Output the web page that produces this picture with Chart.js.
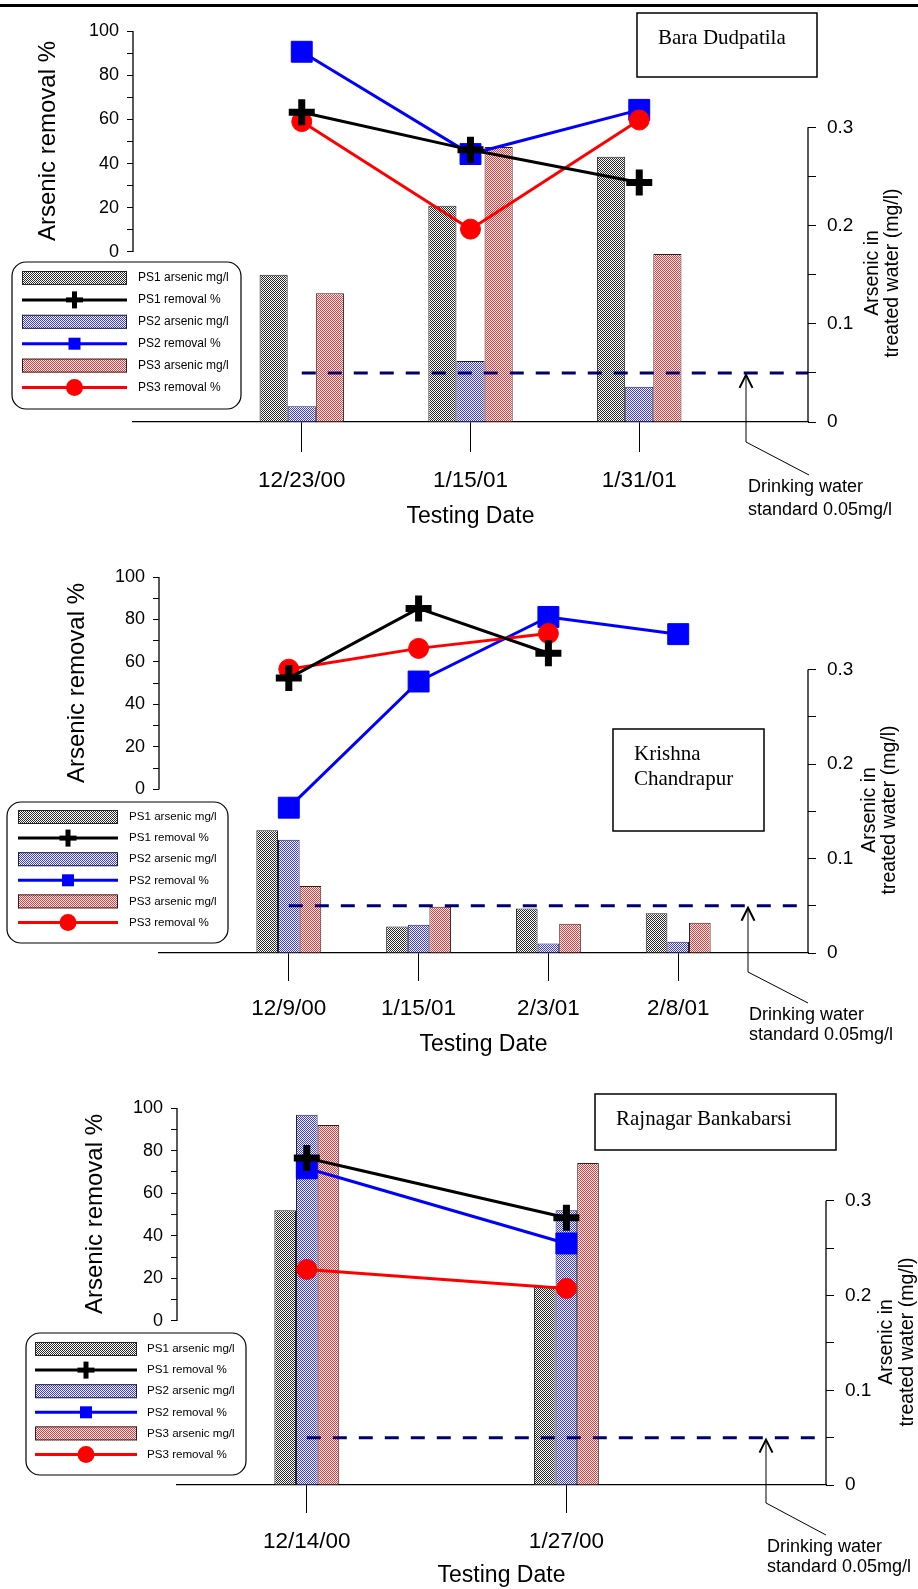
<!DOCTYPE html>
<html>
<head>
<meta charset="utf-8">
<script src="https://cdn.jsdelivr.net/npm/chart.js@4.4.0/dist/chart.umd.min.js"></script>
<style>
  html, body { margin: 0; padding: 0; background: #fff; }
  body { width: 918px; height: 1589px; position: relative; overflow: hidden; }
  canvas { position: absolute; left: 0; }
</style>
</head>
<body>
<canvas id="chartBara" width="918" height="530" style="top:0px"></canvas>
<canvas id="chartKrishna" width="918" height="530" style="top:530px"></canvas>
<canvas id="chartRajnagar" width="918" height="529" style="top:1060px"></canvas>
<script>
// Shared labels and ticks
const seriesLabels = ['PS1 arsenic mg/l', 'PS1 removal %', 'PS2 arsenic mg/l', 'PS2 removal %', 'PS3 arsenic mg/l', 'PS3 removal %'];
const removalTicks = [0, 10, 20, 30, 40, 50, 60, 70, 80, 90, 100];
const arsenicTicks = [0, 0.05, 0.1, 0.15, 0.2, 0.25, 0.3];
const drinkingStandard = 0.05;
const standardNote = ['Drinking water', 'standard 0.05mg/l'];
const leftAxisTitle = 'Arsenic removal %';
const rightAxisTitle = ['Arsenic in', 'treated water (mg/l)'];
const xAxisTitle = 'Testing Date';

// Bara Dudpatila
const baraSite = ['Bara Dudpatila'];
const baraDates = ['12/23/00', '1/15/01', '1/31/01'];
const baraSlots = [1, 2, 3];
const baraPS1Arsenic = [0.150, 0.220, 0.270];
const baraPS2Arsenic = [0.016, 0.062, 0.036];
const baraPS3Arsenic = [0.131, 0.280, 0.171];
const baraPS1Removal = [63.2, 46.2, 31.4];
const baraPS2Removal = [90.6, 44.3, 64.3];
const baraPS3Removal = [59.0, 10.3, 59.7];

// Krishna Chandrapur
const krishnaSite = ['Krishna', 'Chandrapur'];
const krishnaDates = ['12/9/00', '1/15/01', '2/3/01', '2/8/01'];
const krishnaSlots = [1, 2, 3, 4];
const krishnaPS1Arsenic = [0.130, 0.028, 0.047, 0.042];
const krishnaPS2Arsenic = [0.120, 0.030, 0.010, 0.012];
const krishnaPS3Arsenic = [0.071, 0.049, 0.031, 0.032];
const krishnaPS1Removal = [52.4, 85.2, 64.1, null];
const krishnaPS2Removal = [-8.6, 50.8, 81.2, 73.1];
const krishnaPS3Removal = [56.6, 66.4, 73.4, null];

// Rajnagar Bankabarsi
const rajSite = ['Rajnagar Bankabarsi'];
const rajDates = ['12/14/00', '1/27/00'];
const rajSlots = [1, 3];
const rajPS1Arsenic = [0.290, 0.210];
const rajPS2Arsenic = [0.391, 0.290];
const rajPS3Arsenic = [0.380, 0.340];
const rajPS1Removal = [76.5, 48.5];
const rajPS2Removal = [71.7, 36.4];
const rajPS3Removal = [24.2, 15.3];

Chart.defaults.font.family = "'Liberation Sans', Arial, Helvetica, sans-serif";
Chart.defaults.color = '#000';

const SANS = "'Liberation Sans', Arial, sans-serif";
const SERIF = "'Liberation Serif', 'Times New Roman', serif";

// fine dither fill like the original bars
function makePattern(color) {
    const c = document.createElement('canvas');
    c.width = 2;
    c.height = 2;
    const g = c.getContext('2d');
    g.fillStyle = '#fff';
    g.fillRect(0, 0, 2, 2);
    g.fillStyle = color;
    g.fillRect(0, 0, 1, 1);
    g.fillRect(1, 1, 1, 1);
    return g.createPattern(c, 'repeat');
}

const barFills = [makePattern('#2a2a2a'), makePattern('#3535ff'), makePattern('#ff3030')];
const lineColors = ['#000000', '#0000ff', '#ff0000'];

function drawMarker(ctx, kind, color, x, y) {
    ctx.fillStyle = color;
    if (kind === 0) {
        ctx.fillRect(x - 8.5, y - 2.5, 17, 5);
        ctx.fillRect(x - 2.5, y - 8.5, 5, 17);
    } else if (kind === 1) {
        ctx.fillRect(x - 6, y - 6, 12, 12);
    } else {
        ctx.beginPath();
        ctx.arc(x, y, 8.5, 0, Math.PI * 2);
        ctx.fill();
    }
}

function decorPlugin(cfg) {
    return {
        id: 'decor',
        afterDraw(chart) {
            const ctx = chart.ctx;
            const area = chart.chartArea;
            const yL = chart.scales.yL;
            const yR = chart.scales.yR;
            ctx.save();
            ctx.translate(0, -cfg.top);
            const off = cfg.top;

            if (cfg.rule) {
                ctx.fillStyle = '#000';
                ctx.fillRect(0, 4, 918, 3);
            }

            // partial axis lines
            ctx.strokeStyle = '#000';
            ctx.lineWidth = 1.3;
            ctx.beginPath();
            ctx.moveTo(area.left, yL.getPixelForValue(100) + off);
            ctx.lineTo(area.left, yL.getPixelForValue(0) + off);
            ctx.moveTo(area.right, yR.getPixelForValue(0.3) + off);
            ctx.lineTo(area.right, yR.getPixelForValue(0) + off);
            ctx.stroke();

            // axis titles
            ctx.fillStyle = '#000';
            ctx.textAlign = 'center';
            ctx.textBaseline = 'middle';
            ctx.save();
            ctx.translate(cfg.leftTitle.x, cfg.leftTitle.y);
            ctx.rotate(-Math.PI / 2);
            ctx.font = '24px ' + SANS;
            ctx.fillText(leftAxisTitle, 0, 0);
            ctx.restore();
            rightAxisTitle.forEach(function(t, i) {
                ctx.save();
                ctx.translate(cfg.rightTitle.x[i], cfg.rightTitle.y);
                ctx.rotate(-Math.PI / 2);
                ctx.font = '19.5px ' + SANS;
                ctx.fillText(t, 0, 0);
                ctx.restore();
            });

            // site name box
            const sb = cfg.siteBox;
            ctx.lineWidth = 1.5;
            ctx.strokeRect(sb.x, sb.y, sb.w, sb.h);
            ctx.font = '21px ' + SERIF;
            ctx.textAlign = 'left';
            ctx.textBaseline = 'alphabetic';
            cfg.site.forEach(function(t, i) {
                ctx.fillText(t, sb.tx, sb.ty[i]);
            });

            // drinking water standard arrow
            const ar = cfg.arrow;
            const tipY = yR.getPixelForValue(drinkingStandard) + off + 1;
            ctx.lineWidth = 1;
            ctx.beginPath();
            ctx.moveTo(ar.x, tipY + 2);
            ctx.lineTo(ar.x, ar.down);
            ctx.lineTo(ar.ex, ar.ey);
            ctx.stroke();
            ctx.lineWidth = 2;
            ctx.beginPath();
            ctx.moveTo(ar.x - 6.5, tipY + 14);
            ctx.lineTo(ar.x, tipY + 1);
            ctx.lineTo(ar.x + 6.5, tipY + 14);
            ctx.stroke();
            ctx.font = '18px ' + SANS;
            standardNote.forEach(function(t, i) {
                ctx.fillText(t, ar.tx, ar.ty[i]);
            });

            // legend
            const L = cfg.legend;
            ctx.fillStyle = '#fff';
            ctx.strokeStyle = '#000';
            ctx.lineWidth = 1.2;
            ctx.beginPath();
            ctx.roundRect(L.x, L.y, L.w, L.h, 14);
            ctx.fill();
            ctx.stroke();
            for (let i = 0; i < seriesLabels.length; i++) {
                const y = L.ry + i * L.step;
                const s = Math.floor(i / 2);
                if (i % 2 === 0) {
                    ctx.fillStyle = barFills[s];
                    ctx.fillRect(L.sx, y - 7, L.sw, 14);
                    ctx.strokeStyle = '#222';
                    ctx.lineWidth = 1;
                    ctx.strokeRect(L.sx + 0.5, y - 6.5, L.sw - 1, 13);
                } else {
                    ctx.strokeStyle = lineColors[s];
                    ctx.lineWidth = 3;
                    ctx.beginPath();
                    ctx.moveTo(L.sx, y);
                    ctx.lineTo(L.sx + L.sw, y);
                    ctx.stroke();
                    drawMarker(ctx, s, lineColors[s], L.sx + L.sw / 2, y);
                }
                ctx.fillStyle = '#000';
                ctx.font = L.font + 'px ' + SANS;
                ctx.textBaseline = 'middle';
                ctx.fillText(seriesLabels[i], L.tx, y);
            }
            ctx.restore();
        }
    };
}

function makePanel(cfg) {
    const pts = function(vals) {
        return vals.map(function(v, i) { return { x: cfg.slots[i], y: v }; });
    };
    const a = cfg.area;

    const datasets = [
        {
            type: 'line', label: seriesLabels[1], data: pts(cfg.removal[0]), yAxisID: 'yL',
            borderColor: '#000', borderWidth: 3, pointStyle: 'cross', pointRadius: 13,
            pointBorderWidth: 7, pointBorderColor: '#000', pointBackgroundColor: '#000',
            clip: false, order: 0
        },
        {
            type: 'line', label: seriesLabels[5], data: pts(cfg.removal[2]), yAxisID: 'yL',
            borderColor: '#ff0000', borderWidth: 3, pointStyle: 'circle', pointRadius: 10,
            pointBorderWidth: 1, pointBorderColor: '#ff0000', pointBackgroundColor: '#ff0000',
            clip: false, order: 1
        },
        {
            type: 'line', label: seriesLabels[3], data: pts(cfg.removal[1]), yAxisID: 'yL',
            borderColor: '#0000ff', borderWidth: 3, pointStyle: 'rect', pointRadius: 14.8,
            pointBorderWidth: 1, pointBorderColor: '#0000ff', pointBackgroundColor: '#0000ff',
            clip: false, order: 2
        },
        {
            type: 'line', label: 'standard',
            data: [{ x: cfg.slots[0], y: drinkingStandard }, { x: cfg.xMax, y: drinkingStandard }],
            yAxisID: 'yR', borderColor: '#00006e', borderWidth: 3, borderDash: [14, 12],
            pointRadius: 0, clip: false, order: 3
        }
    ];
    for (let s = 0; s < 3; s++) {
        datasets.push({
            type: 'bar', label: seriesLabels[s * 2], data: pts(cfg.arsenic[s]), yAxisID: 'yR',
            backgroundColor: barFills[s], borderColor: '#222', borderWidth: 1,
            categoryPercentage: cfg.catPct, barPercentage: 1, order: 4 + s
        });
    }

    return new Chart(document.getElementById(cfg.id), {
        type: 'bar',
        data: { datasets: datasets },
        options: {
            responsive: false,
            devicePixelRatio: 1,
            animation: false,
            events: [],
            layout: { padding: { top: a.top - cfg.top, left: 0, right: 0, bottom: 0 } },
            plugins: { legend: { display: false }, tooltip: { enabled: false }, title: { display: false } },
            scales: {
                x: {
                    type: 'linear', min: 0, max: cfg.xMax, offset: false,
                    afterBuildTicks: function(s) { s.ticks = cfg.slots.map(function(v) { return { value: v }; }); },
                    afterFit: function(s) { s.height = cfg.height - (a.bottom - cfg.top); },
                    ticks: {
                        autoSkip: false, maxRotation: 0, minRotation: 0, padding: cfg.xTickPad,
                        font: { size: 22.5 }, color: '#000',
                        callback: function(v, i) { return cfg.dates[i]; }
                    },
                    grid: { offset: false, drawOnChartArea: false, drawTicks: true, tickLength: cfg.xTickLen, color: '#000', lineWidth: 1 },
                    border: { display: true, color: '#000', width: 1.3 },
                    title: { display: true, text: xAxisTitle, font: { size: 23 }, color: '#000', padding: { top: 0, bottom: cfg.xTitlePad } }
                },
                yL: {
                    type: 'linear', position: 'left', min: -77, max: 100,
                    afterBuildTicks: function(s) { s.ticks = removalTicks.map(function(v) { return { value: v }; }); },
                    afterFit: function(s) { s.width = a.left; },
                    ticks: {
                        autoSkip: false, padding: 8, font: { size: 18 }, color: '#000',
                        callback: function(v) { return v % 20 === 0 ? String(v) : ''; }
                    },
                    grid: { drawOnChartArea: false, drawTicks: true, tickLength: 6, color: '#000', lineWidth: 1 },
                    border: { display: false }
                },
                yR: {
                    type: 'linear', position: 'right', min: 0, max: 0.398,
                    afterBuildTicks: function(s) { s.ticks = arsenicTicks.map(function(v) { return { value: v }; }); },
                    afterFit: function(s) { s.width = 918 - a.right; },
                    ticks: {
                        autoSkip: false, padding: 11, font: { size: 19 }, color: '#000',
                        callback: function(v) {
                            const k = Math.round(v * 100);
                            if (k % 10 !== 0) return '';
                            return k === 0 ? '0' : (k / 100).toFixed(1);
                        }
                    },
                    grid: { drawOnChartArea: false, drawTicks: true, tickLength: 8, color: '#000', lineWidth: 1 },
                    border: { display: false }
                }
            }
        },
        plugins: [decorPlugin(cfg)]
    });
}

makePanel({
    id: 'chartBara', top: 0, height: 530,
    area: { left: 133, right: 808, top: 31, bottom: 422 },
    xMax: 4, slots: baraSlots, dates: baraDates, catPct: 0.5,
    arsenic: [baraPS1Arsenic, baraPS2Arsenic, baraPS3Arsenic],
    removal: [baraPS1Removal, baraPS2Removal, baraPS3Removal],
    xTickLen: 30, xTickPad: 15, xTitlePad: 0,
    site: baraSite, siteBox: { x: 637, y: 13, w: 180, h: 64, tx: 658, ty: [44] },
    legend: { x: 12, y: 262, w: 229, h: 147, sx: 22, sw: 105, tx: 138, ry: 278, step: 21.9, font: 12 },
    leftTitle: { x: 48, y: 141 }, rightTitle: { x: [873, 893], y: 273 },
    arrow: { x: 746, down: 442, ex: 809, ey: 475, tx: 748, ty: [492, 515] },
    rule: true
});

makePanel({
    id: 'chartKrishna', top: 530, height: 530,
    area: { left: 159, right: 808, top: 577, bottom: 953 },
    xMax: 5, slots: krishnaSlots, dates: krishnaDates, catPct: 0.5,
    arsenic: [krishnaPS1Arsenic, krishnaPS2Arsenic, krishnaPS3Arsenic],
    removal: [krishnaPS1Removal, krishnaPS2Removal, krishnaPS3Removal],
    xTickLen: 28, xTickPad: 14, xTitlePad: 2,
    site: krishnaSite, siteBox: { x: 613, y: 729, w: 151, h: 102, tx: 634, ty: [760, 785] },
    legend: { x: 7, y: 802, w: 221, h: 141, sx: 18, sw: 100, tx: 129, ry: 817, step: 21.1, font: 11.6 },
    leftTitle: { x: 77, y: 683 }, rightTitle: { x: [870, 890], y: 810 },
    arrow: { x: 748, down: 972, ex: 808, ey: 1003, tx: 749, ty: [1020, 1040] },
    rule: false
});

makePanel({
    id: 'chartRajnagar', top: 1060, height: 529,
    area: { left: 177, right: 826, top: 1108, bottom: 1485 },
    xMax: 5, slots: rajSlots, dates: rajDates, catPct: 0.25,
    arsenic: [rajPS1Arsenic, rajPS2Arsenic, rajPS3Arsenic],
    removal: [rajPS1Removal, rajPS2Removal, rajPS3Removal],
    xTickLen: 28, xTickPad: 15, xTitlePad: 0,
    site: rajSite, siteBox: { x: 595, y: 1094, w: 241, h: 56, tx: 616, ty: [1125] },
    legend: { x: 26, y: 1333, w: 220, h: 142, sx: 35, sw: 102, tx: 147, ry: 1349, step: 21.1, font: 11.6 },
    leftTitle: { x: 95, y: 1214 }, rightTitle: { x: [887, 908], y: 1342 },
    arrow: { x: 766, down: 1503, ex: 826, ey: 1535, tx: 767, ty: [1552, 1572] },
    rule: false
});
</script>
</body>
</html>
